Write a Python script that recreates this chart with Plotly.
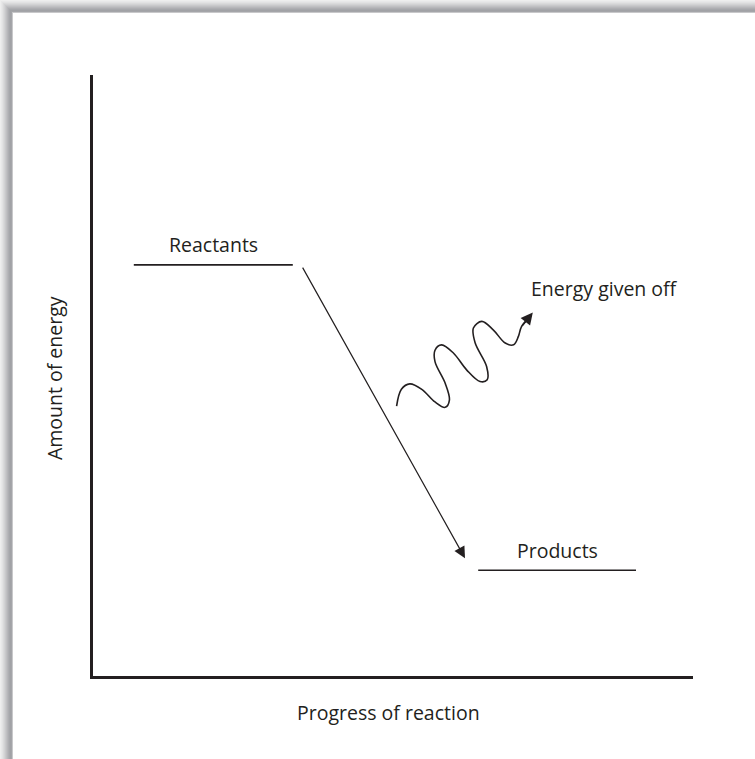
import plotly.graph_objects as go

# ---- diagram data (progress 0-100, energy 0-100) ----
level_names = ["Reactants", "Products"]
level_energy = [68.4, 17.6]
level_start = [6.8, 64.2]
level_end = [33.3, 90.5]

# reaction arrow (progress, energy)
reaction_from = [34.8, 68.2]
reaction_to = [62.0, 19.6]

# wavy "energy given off" path (progress, energy)
wave_x = [50.6, 51.4, 52.8, 54.8, 57.0, 58.7, 59.4, 58.7, 57.0, 57.0, 58.1, 60.1,
          62.3, 64.5, 65.7, 65.6, 63.7, 63.4, 64.8, 66.7, 68.7, 70.1, 70.9, 71.4, 72.6]
wave_y = [44.9, 47.7, 48.6, 47.7, 45.6, 44.7, 45.9, 48.7, 52.3, 54.2, 55.1, 53.7,
          50.9, 49.0, 49.3, 51.5, 55.4, 57.9, 59.0, 57.6, 55.4, 55.1, 56.5, 58.1, 59.5]
wave_tip = [73.3, 60.5]

x_title = "Progress of reaction"
y_title = "Amount of energy"
wave_label = "Energy given off"

INK = "#231f20"
FONT = "Open Sans"
FS = 19.5

fig = go.Figure()

for name, e, s, t in zip(level_names, level_energy, level_start, level_end):
    fig.add_trace(go.Scatter(x=[s, t], y=[e, e], mode="lines",
                             line=dict(color=INK, width=1.6), hoverinfo="skip",
                             showlegend=False))
    fig.add_annotation(x=(s + t) / 2, y=e, text=name, showarrow=False,
                       xanchor="center", yanchor="middle",
                       yshift=20, font=dict(family=FONT, size=FS, color=INK))

fig.add_trace(go.Scatter(x=wave_x, y=wave_y, mode="lines",
                         line=dict(color=INK, width=1.6, shape="spline", smoothing=1.0),
                         hoverinfo="skip", showlegend=False))

# reaction arrow
fig.add_annotation(x=reaction_to[0], y=reaction_to[1], ax=reaction_from[0], ay=reaction_from[1],
                   xref="x", yref="y", axref="x", ayref="y", text="", showarrow=True,
                   arrowhead=2, arrowsize=1.9, arrowwidth=1.2, arrowcolor=INK)

# wave arrowhead
fig.add_annotation(x=wave_tip[0], y=wave_tip[1], ax=wave_x[-2], ay=wave_y[-2],
                   xref="x", yref="y", axref="x", ayref="y", text="", showarrow=True,
                   arrowhead=2, arrowsize=1.5, arrowwidth=1.6, arrowcolor=INK)

fig.add_annotation(x=85.2, y=64.5, text=wave_label, showarrow=False,
                   xanchor="center", yanchor="middle",
                   font=dict(family=FONT, size=FS, color=INK))

fig.add_annotation(xref="paper", yref="paper", x=0.493, y=-0.06, text=x_title,
                   xanchor="center", yanchor="middle",
                   showarrow=False, font=dict(family=FONT, size=FS, color=INK))
fig.add_annotation(xref="paper", yref="paper", x=-0.063, y=0.496, text=y_title,
                   xanchor="center", yanchor="middle",
                   textangle=-90, showarrow=False, font=dict(family=FONT, size=FS, color=INK))

# frame shadow (top and left bands)
W, H = 755, 759
L, R, T, B = 93, 62, 75, 83
pw, ph = W - L - R, H - T - B
def px(x):
    return (x - L) / pw
def py(y):
    return (H - B - y) / ph
shades = ["#eeeeee", "#e8e8e9", "#e2e2e3", "#dadadb", "#d2d2d4", "#c9c9cb", "#c0c0c3",
          "#b7b7ba", "#aeaeb2", "#a6a7ab", "#a1a2a6", "#a4a5a9", "#c8c8ca"]
for i, c in enumerate(shades):
    fig.add_shape(type="rect", xref="paper", yref="paper", x0=px(i), x1=px(W),
                  y0=py(i + 1), y1=py(i), fillcolor=c, line_width=0, layer="below")
    fig.add_shape(type="rect", xref="paper", yref="paper", x0=px(i), x1=px(i + 1),
                  y0=py(H), y1=py(i), fillcolor=c, line_width=0, layer="below")

axis_common = dict(showline=True, linewidth=3, linecolor=INK, showgrid=False,
                   zeroline=False, showticklabels=False, ticks="", fixedrange=True)
fig.update_xaxes(range=[0, 100], **axis_common)
fig.update_yaxes(range=[0, 100], **axis_common)

fig.update_layout(width=W, height=H, margin=dict(l=L, r=R, t=T, b=B),
                  plot_bgcolor="white", paper_bgcolor="white", showlegend=False)

fig.write_html("out.html", config={"displayModeBar": False},
               post_script="document.body.style.margin='0';document.body.style.overflow='hidden';")
